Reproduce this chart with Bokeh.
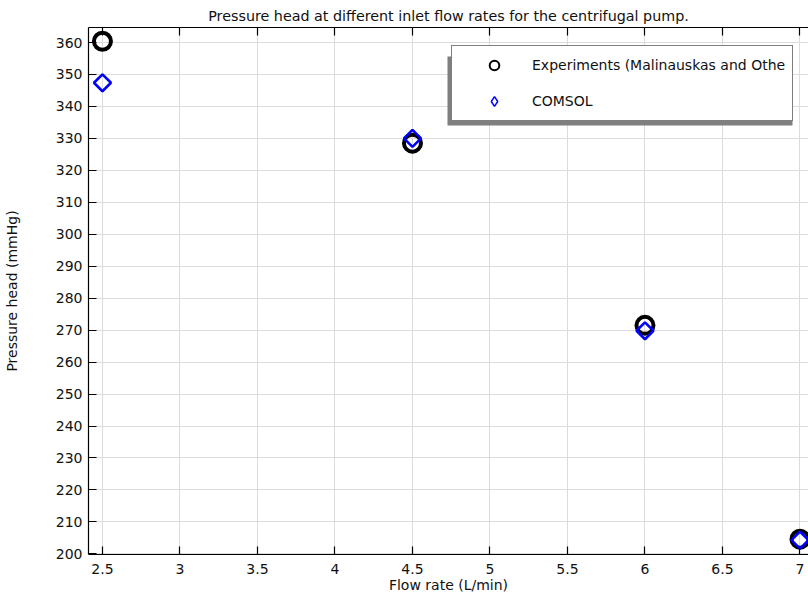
import math
from bokeh.plotting import figure
from bokeh.models import (Range1d, FixedTicker, LinearAxis, Legend, LegendItem,
                          ColumnDataSource, BoxAnnotation)
from bokeh.embed import file_html
from bokeh.resources import INLINE

# ---- data ----
flow_rate = [2.5, 4.5, 6.0, 7.0]
experiments = [360.4, 328.5, 271.5, 204.6]
comsol = [347.4, 330.0, 269.8, 204.3]

x_ticks = [2.5, 3, 3.5, 4, 4.5, 5, 5.5, 6, 6.5, 7]
x_tick_labels = ["2.5", "3", "3.5", "4", "4.5", "5", "5.5", "6", "6.5", "7"]
y_ticks = list(range(200, 361, 10))
y_tick_labels = [str(v) for v in y_ticks]

title_text = "Pressure head at different inlet flow rates for the centrifugal pump."
x_label = "Flow rate (L/min)"
y_label = "Pressure head (mmHg)"
legend_labels = ["Experiments (Malinauskas and Othe", "COMSOL"]

FONT = "DejaVu Sans"
FS = "14px"

p = figure(width=808, height=596, output_backend="svg", toolbar_location=None,
           x_range=Range1d(2.41, 7.055), y_range=Range1d(199.8, 364.7),
           min_border_left=88, min_border_right=0, min_border_top=27,
           min_border_bottom=42, x_axis_location=None, y_axis_location=None)
p.outline_line_color = None
p.background_fill_color = "white"
p.border_fill_color = "white"

p.title.text = title_text
p.title.align = "center"
p.title.text_font = FONT
p.title.text_font_size = "14.3px"
p.title.text_font_style = "normal"
p.title.text_color = "#111111"
p.title.offset = 3
p.title.standoff = 8

xt = FixedTicker(ticks=x_ticks)
yt = FixedTicker(ticks=y_ticks)

def style_axis(ax, show_labels=True):
    ax.major_tick_in = 8
    ax.major_tick_out = 0
    ax.minor_tick_line_color = None
    ax.axis_line_color = "black"
    ax.axis_line_width = 1.2
    ax.major_tick_line_color = "black"
    ax.major_tick_line_width = 1.2
    ax.major_label_text_font = FONT
    ax.major_label_text_font_size = FS if show_labels else "0px"
    ax.major_label_text_color = "#111111" if show_labels else None
    ax.axis_label_text_font = FONT
    ax.axis_label_text_font_size = FS
    ax.axis_label_text_font_style = "normal"
    ax.axis_label_text_color = "#111111"

xaxis = LinearAxis(ticker=xt, axis_label=x_label,
                   major_label_overrides={t: l for t, l in zip(x_ticks, x_tick_labels)})
style_axis(xaxis)
xaxis.major_label_standoff = 9
xaxis.axis_label_standoff = 0
p.add_layout(xaxis, "below")

yaxis = LinearAxis(ticker=yt, axis_label=y_label,
                   major_label_overrides={t: l for t, l in zip(y_ticks, y_tick_labels)})
style_axis(yaxis)
yaxis.major_label_standoff = 6
yaxis.axis_label_standoff = 33
p.add_layout(yaxis, "left")

topaxis = LinearAxis(ticker=xt)
style_axis(topaxis, show_labels=False)
topaxis.major_label_standoff = 2
p.add_layout(topaxis, "above")

p.xgrid.ticker = xt
p.ygrid.ticker = yt
p.xgrid.grid_line_color = "#dcdcdc"
p.ygrid.grid_line_color = "#dcdcdc"
p.xgrid.grid_line_width = 1
p.ygrid.grid_line_width = 1

src = ColumnDataSource(dict(x=flow_rate, exp=experiments, com=comsol))

# legend-only renderers (hidden on the plot, thinner markers in the legend)
leg_exp = p.scatter("x", "exp", source=src, marker="circle", size=17, fill_color=None,
                    line_color="black", line_width=2, visible=False)
leg_com = p.scatter("x", "com", source=src, marker="diamond", size=17, fill_color=None,
                    line_color="#0000ff", line_width=1.5, visible=False)

p.scatter("x", "exp", source=src, marker="circle", size=17,
          fill_color=None, line_color="black", line_width=4)
p.scatter("x", "com", source=src, marker="square", size=12, angle=math.pi / 4,
          fill_color=None, line_color="#0000ff", line_width=2.6)

# legend drop shadow (screen units relative to the frame)
shadow = BoxAnnotation(left=359, right=704, bottom=429, top=498,
                       left_units="screen", right_units="screen",
                       bottom_units="screen", top_units="screen",
                       fill_color="#7f7f7f", fill_alpha=1.0, line_color=None)
p.add_layout(shadow)

legend = Legend(items=[LegendItem(label=legend_labels[0], renderers=[leg_exp]),
                       LegendItem(label=legend_labels[1], renderers=[leg_com])],
                location=(363, 433))
legend.label_text_font = FONT
legend.label_text_font_size = FS
legend.label_text_color = "#111111"
legend.glyph_width = 70
legend.glyph_height = 24
legend.label_height = 20
legend.label_standoff = 3
legend.spacing = 12
legend.padding = 7
legend.margin = 0
legend.border_line_color = "black"
legend.border_line_width = 1.5
legend.background_fill_color = "white"
legend.background_fill_alpha = 1.0
p.add_layout(legend, "center")

open("out.html", "w").write(file_html(p, INLINE))
